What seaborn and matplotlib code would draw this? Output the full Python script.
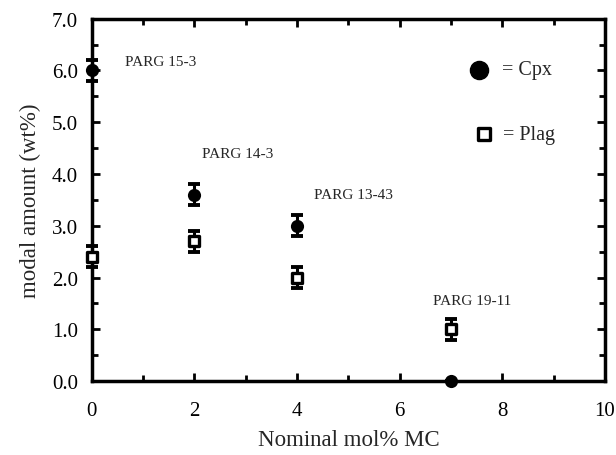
import matplotlib
matplotlib.use("Agg")
import matplotlib.pyplot as plt
import seaborn as sns
import pandas as pd
from matplotlib.ticker import MultipleLocator, FormatStrFormatter

sns.set_theme(style="ticks")
plt.rcParams['font.family'] = ['Liberation Serif', 'DejaVu Serif']

mol = [0, 2, 4, 7]
cpx = [6.0, 3.6, 3.0, 0.0]
cpx_err = [0.2, 0.2, 0.2, 0.0]
plag = [2.4, 2.7, 2.0, 1.0]
plag_err = [0.2, 0.2, 0.2, 0.2]
sample_labels = ["PARG 15-3", "PARG 14-3", "PARG 13-43", "PARG 19-11"]
label_x = [1.34, 2.85, 5.09, 7.41]
label_y = [6.18, 4.40, 3.60, 1.55]

df = pd.DataFrame({"mol": mol * 2,
                   "amount": cpx + plag,
                   "phase": ["Cpx"] * 4 + ["Plag"] * 4})

fig = plt.figure(figsize=(6.16, 4.56), dpi=100)
ax = fig.add_axes([0.149, 0.162, 0.833, 0.795])

# error bars
ax.errorbar(mol, cpx, yerr=cpx_err, fmt='none', ecolor='black', elinewidth=2.2,
            capsize=4.5, capthick=2.8, clip_on=False, zorder=2)
ax.errorbar(mol, plag, yerr=plag_err, fmt='none', ecolor='black', elinewidth=2.2,
            capsize=4.5, capthick=2.8, clip_on=False, zorder=2)

sub_c = df[df.phase == "Cpx"]
sub_p = df[df.phase == "Plag"]
sns.scatterplot(data=sub_c, x="mol", y="amount", ax=ax, marker='o', s=90,
                color='black', edgecolor='black', linewidth=0, clip_on=False,
                zorder=3, legend=False)
sns.scatterplot(data=sub_p, x="mol", y="amount", ax=ax, marker='s', s=50,
                color='white', edgecolor='black', linewidth=2.4, clip_on=False,
                zorder=3, legend=False)

# legend-like annotations
ax.scatter([7.54], [6.01], marker='o', s=170, color='black', zorder=3)
ax.text(7.99, 6.01, "= Cpx", fontsize=14.5, va='center', ha='left')
ax.scatter([7.64], [4.77], marker='s', s=65, facecolor='white', edgecolor='black',
           linewidth=2.4, zorder=3)
ax.text(8.01, 4.77, "= Plag", fontsize=14.5, va='center', ha='left')

for lx, ly, t in zip(label_x, label_y, sample_labels):
    ax.text(lx, ly, t, fontsize=11, ha='center', va='center')

ax.set_xlim(0, 10)
ax.set_ylim(0, 7)
ax.xaxis.set_major_locator(MultipleLocator(2))
ax.xaxis.set_minor_locator(MultipleLocator(1))
ax.yaxis.set_major_locator(MultipleLocator(1))
ax.yaxis.set_minor_locator(MultipleLocator(0.5))
ax.xaxis.set_major_formatter(FormatStrFormatter("%d"))
ax.yaxis.set_major_formatter(FormatStrFormatter("%.1f"))
ax.tick_params(which='both', direction='in', top=True, right=True,
               width=2, labelsize=15, colors='black')
ax.tick_params(axis='x', pad=14)
ax.tick_params(axis='y', pad=10)
ax.tick_params(which='major', length=6)
ax.tick_params(which='minor', length=4)
for sp in ax.spines.values():
    sp.set_linewidth(2.5)
    sp.set_color('black')
    sp.set_visible(True)

ax.set_xlabel("Nominal mol% MC", fontsize=16.5, labelpad=7)
ax.set_ylabel("modal amount (wt%)", fontsize=16.5, labelpad=8)

fig.savefig("out.png", dpi=100)
